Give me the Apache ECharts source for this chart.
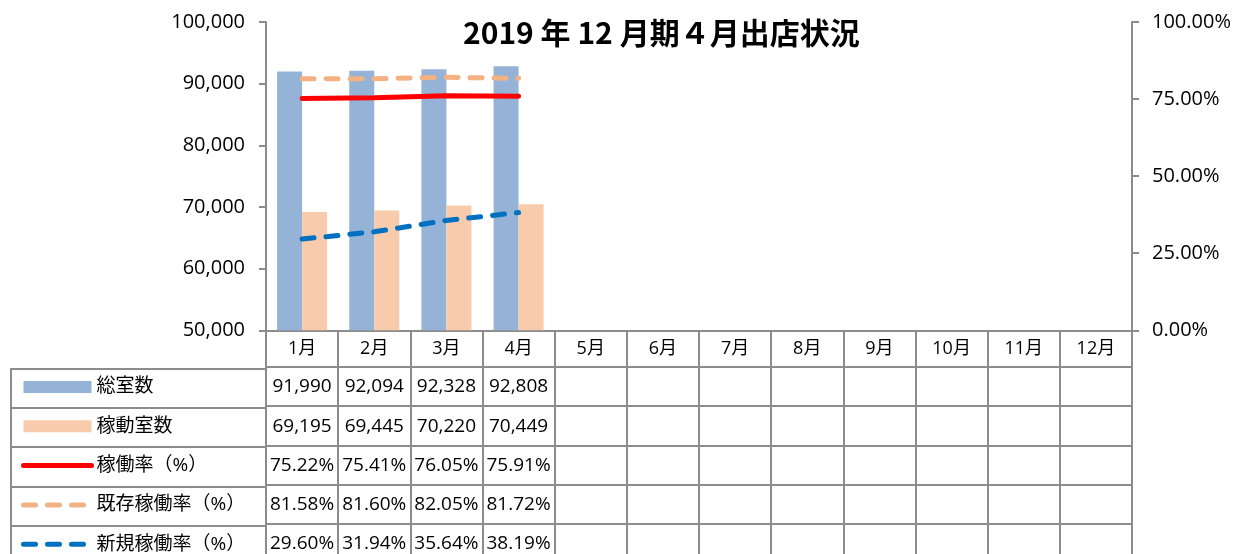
<!DOCTYPE html>
<html>
<head>
<meta charset="utf-8">
<title>2019年12月期4月出店状況</title>
<script src="https://cdn.jsdelivr.net/npm/echarts@6/dist/echarts.min.js"></script>
<style>
  html, body { margin: 0; padding: 0; background: #fff; }
  #chart { width: 1245px; height: 554px; }
</style>
</head>
<body>
<div id="chart"></div>
<script>
// data
const months = ['1月', '2月', '3月', '4月', '5月', '6月', '7月', '8月', '9月', '10月', '11月', '12月'];
const totalRooms = [91990, 92094, 92328, 92808];
const activeRooms = [69195, 69445, 70220, 70449];
const occRate = [0.7522, 0.7541, 0.7605, 0.7591];
const existingRate = [0.8158, 0.8160, 0.8205, 0.8172];
const newRate = [0.2960, 0.3194, 0.3564, 0.3819];
const leftTicks = [50000, 100000, 10000];   // min, max, step
const rightTicks = [0, 1, 0.25];

const FONT = "'Open Sans', 'Noto Sans CJK JP', sans-serif";
const GRID_LINE = '#8c8c8c';
const HEADER_H = 36.5;
const ROW_H = 39.3;

const fmtNum = v => v.toLocaleString('en-US');
const fmtPct = v => (v * 100).toFixed(2) + '%';

const rows = [
  { name: '総室数', values: totalRooms, fmt: fmtNum },
  { name: '稼動室数', values: activeRooms, fmt: fmtNum },
  { name: '稼働率（%）', values: occRate, fmt: fmtPct },
  { name: '既存稼働率（%）', values: existingRate, fmt: fmtPct },
  { name: '新規稼働率（%）', values: newRate, fmt: fmtPct }
];

const chart = echarts.init(document.getElementById('chart'));

const tableLine = { onZero: false, lineStyle: { color: GRID_LINE, width: 2 } };

// header axis (month names) for the main grid
const xAxes = [{
  type: 'category',
  gridIndex: 0,
  data: months,
  position: 'bottom',
  axisLine: tableLine,
  axisTick: { show: true, interval: 0, length: HEADER_H, lineStyle: { color: GRID_LINE, width: 2 } },
  axisLabel: { interval: 0, color: '#000', fontSize: 18, lineHeight: 20, fontFamily: FONT, margin: 9 }
}];

// one axis per table row: line = row top border, ticks = cell borders
rows.forEach((r, k) => {
  xAxes.push({
    type: 'category',
    gridIndex: 0,
    data: months,
    position: 'bottom',
    offset: HEADER_H + k * ROW_H,
    axisLine: tableLine,
    axisTick: { show: true, interval: 0, length: ROW_H, lineStyle: { color: GRID_LINE, width: 2 } },
    axisLabel: {
      interval: 0, color: '#000', fontSize: 19, fontFamily: FONT,
      lineHeight: 20, margin: 10,
      formatter: (v, i) => (r.values[i] != null ? r.fmt(r.values[i]) : '')
    }
  });
  // left column (legend cells)
  xAxes.push({
    type: 'category',
    gridIndex: 1,
    data: [''],
    position: 'bottom',
    offset: HEADER_H + k * ROW_H,
    axisLine: tableLine,
    axisTick: { show: true, interval: 0, length: ROW_H, lineStyle: { color: GRID_LINE, width: 2 } },
    axisLabel: { show: false }
  });
});

const lineLegend = (name, style) => ({
  name: name,
  itemStyle: { opacity: 0 },
  lineStyle: Object.assign({ width: 5, cap: 'round' }, style)
});

const option = {
  animation: false,
  backgroundColor: '#fff',
  title: {
    text: '2019 年 12 月期４月出店状況',
    left: 458,
    top: 13,
    textStyle: { fontFamily: "'Noto Sans CJK JP', sans-serif", fontWeight: 'bold', fontSize: 30, color: '#000' }
  },
  legend: {
    orient: 'vertical',
    left: 21,
    top: 377,
    height: 250,
    padding: 0,
    itemWidth: 68,
    itemHeight: 12,
    itemGap: 19.3,
    selectedMode: false,
    textStyle: { fontFamily: FONT, fontSize: 19, lineHeight: 20, color: '#000' },
    data: [
      { name: '総室数', icon: 'rect' },
      { name: '稼動室数', icon: 'rect' },
      lineLegend('稼働率（%）', { color: '#FF0000' }),
      lineLegend('既存稼働率（%）', { color: '#F4B183', type: [12, 12] }),
      lineLegend('新規稼働率（%）', { color: '#0070C0', type: [12, 12] })
    ]
  },
  grid: [
    { left: 266, right: 113, top: 22, bottom: 222 },
    { left: 11, width: 255, top: 22, bottom: 222 }
  ],
  xAxis: xAxes,
  yAxis: [
    {
      type: 'value',
      gridIndex: 0,
      min: leftTicks[0],
      max: leftTicks[1],
      interval: leftTicks[2],
      splitLine: { show: false },
      axisLine: { show: true, lineStyle: { color: GRID_LINE, width: 2 } },
      axisTick: { show: true, length: 7, lineStyle: { color: GRID_LINE, width: 2 } },
      axisLabel: { color: '#000', fontSize: 20, fontFamily: FONT, margin: 21, formatter: v => fmtNum(v) }
    },
    {
      type: 'value',
      gridIndex: 0,
      position: 'right',
      min: rightTicks[0],
      max: rightTicks[1],
      interval: rightTicks[2],
      splitLine: { show: false },
      axisLine: { show: true, lineStyle: { color: GRID_LINE, width: 2 } },
      axisTick: { show: true, length: 7, lineStyle: { color: GRID_LINE, width: 2 } },
      axisLabel: { color: '#000', fontSize: 20, fontFamily: FONT, margin: 20, formatter: v => fmtPct(v) }
    },
    { type: 'value', gridIndex: 1, show: false }
  ],
  series: [
    {
      name: '総室数',
      type: 'bar',
      xAxisIndex: 0,
      yAxisIndex: 0,
      data: totalRooms,
      barWidth: 25,
      barGap: '0%',
      itemStyle: { color: '#95B3D7' }
    },
    {
      name: '稼動室数',
      type: 'bar',
      xAxisIndex: 0,
      yAxisIndex: 0,
      data: activeRooms,
      barWidth: 25,
      barGap: '0%',
      itemStyle: { color: '#F8CBAD' }
    },
    {
      name: '稼働率（%）',
      type: 'line',
      xAxisIndex: 0,
      yAxisIndex: 1,
      data: occRate,
      symbol: 'none',
      lineStyle: { color: '#FF0000', width: 5, cap: 'round' },
      itemStyle: { color: '#FF0000' }
    },
    {
      name: '既存稼働率（%）',
      type: 'line',
      xAxisIndex: 0,
      yAxisIndex: 1,
      data: existingRate,
      symbol: 'none',
      lineStyle: { color: '#F4B183', width: 5, type: [12, 12], cap: 'round' },
      itemStyle: { color: '#F4B183' }
    },
    {
      name: '新規稼働率（%）',
      type: 'line',
      xAxisIndex: 0,
      yAxisIndex: 1,
      data: newRate,
      symbol: 'none',
      lineStyle: { color: '#0070C0', width: 5, type: [12, 12], cap: 'round' },
      itemStyle: { color: '#0070C0' }
    }
  ]
};

chart.setOption(option);
window.addEventListener('resize', () => chart.resize());
</script>
</body>
</html>
